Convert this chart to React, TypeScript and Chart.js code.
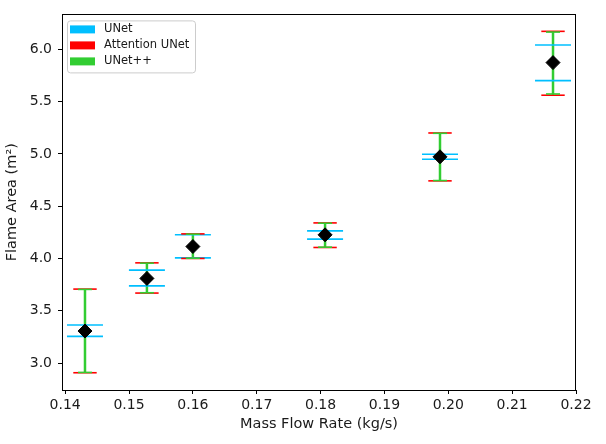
import { useEffect, useRef } from 'react';
import { Chart, registerables } from 'chart.js';

Chart.register(...registerables);

// mass flow rate of each case (kg/s)
const massFlow = [0.1431, 0.1528, 0.16, 0.1807, 0.1987, 0.2164];
// mean flame area over the three models (m²)
const meanArea = [3.306, 3.809, 4.114, 4.226, 4.972, 5.873];

const unetLow = [3.255, 3.738, 4.006, 4.185, 4.949, 5.701];
const unetHigh = [3.363, 3.888, 4.226, 4.264, 4.997, 6.041];
const attnLow = [2.907, 3.669, 4.0, 4.105, 4.742, 5.561];
const attnHigh = [3.707, 3.958, 4.235, 4.34, 5.2, 6.172];
const unetppLow = [2.91, 3.672, 4.002, 4.108, 4.745, 5.573];
const unetppHigh = [3.704, 3.955, 4.232, 4.337, 5.197, 6.165];

const seriesNames = ['UNet', 'Attention UNet', 'UNet++'];
const seriesColors = ['#00bfff', '#ff0000', '#32cd32'];

const xTicks = [0.14, 0.15, 0.16, 0.17, 0.18, 0.19, 0.2, 0.21, 0.22];
const yTicks = [3.0, 3.5, 4.0, 4.5, 5.0, 5.5, 6.0];

const bands = [
  { low: unetLow, high: unetHigh },
  { low: attnLow, high: attnHigh },
  { low: unetppLow, high: unetppHigh },
];
const capHalf = [18, 11.7, 7];
const barWidth = [1.5, 1.5, 2.5];

const TEXT = '#1a1a1a';
const FONT = 'DejaVu Sans';

const errorBars = {
  id: 'errorBars',
  beforeDatasetsDraw(chart: any) {
    const { ctx, scales } = chart;
    const x = scales.x;
    const y = scales.y;
    ctx.save();
    // vertical bars of every series first, caps afterwards (like matplotlib)
    bands.forEach((b, s) => {
      ctx.strokeStyle = seriesColors[s];
      ctx.lineWidth = barWidth[s];
      massFlow.forEach((v, i) => {
        const px = x.getPixelForValue(v);
        ctx.beginPath();
        ctx.moveTo(px, y.getPixelForValue(b.low[i]));
        ctx.lineTo(px, y.getPixelForValue(b.high[i]));
        ctx.stroke();
      });
    });
    bands.forEach((b, s) => {
      ctx.strokeStyle = seriesColors[s];
      ctx.lineWidth = 1.6;
      massFlow.forEach((v, i) => {
        const px = x.getPixelForValue(v);
        [b.low[i], b.high[i]].forEach((val) => {
          const py = y.getPixelForValue(val);
          ctx.beginPath();
          ctx.moveTo(px - capHalf[s], py);
          ctx.lineTo(px + capHalf[s], py);
          ctx.stroke();
        });
      });
    });
    ctx.restore();
  },
};

const frameAndLegend = {
  id: 'frameAndLegend',
  afterDraw(chart: any) {
    const { ctx, chartArea } = chart;
    const { left, top, right, bottom } = chartArea;
    ctx.save();
    ctx.strokeStyle = '#000';
    ctx.lineWidth = 1;
    ctx.strokeRect(Math.round(left) + 0.5, Math.round(top) + 0.5, Math.round(right - left) - 1, Math.round(bottom - top));

    // legend box, upper left
    const bx = left + 5;
    const by = top + 6;
    const bw = 128;
    const bh = 52;
    ctx.beginPath();
    ctx.roundRect(bx + 0.5, by + 0.5, bw, bh, 3);
    ctx.fillStyle = 'rgba(255,255,255,0.8)';
    ctx.fill();
    ctx.strokeStyle = '#cccccc';
    ctx.stroke();

    ctx.font = `11.5px "${FONT}"`;
    ctx.textBaseline = 'middle';
    ctx.textAlign = 'left';
    seriesNames.forEach((name, i) => {
      const ry = by + 5 + i * 16;
      ctx.fillStyle = seriesColors[i];
      ctx.fillRect(bx + 3, ry, 25, 8);
      ctx.fillStyle = TEXT;
      ctx.fillText(name, bx + 37, ry + 4);
    });
    ctx.restore();
  },
};

export default function App() {
  const canvasRef = useRef<HTMLCanvasElement>(null);

  useEffect(() => {
    if (!canvasRef.current) return;
    const chart = new Chart(canvasRef.current, {
      type: 'scatter',
      data: {
        datasets: [
          {
            label: 'mean',
            data: massFlow.map((x, i) => ({ x, y: meanArea[i] })),
            pointStyle: 'rectRot',
            pointRadius: 7,
            backgroundColor: '#000',
            borderColor: '#000',
            borderWidth: 1,
          },
        ],
      },
      options: {
        animation: false,
        responsive: false,
        maintainAspectRatio: false,
        layout: { padding: { top: 14, right: 30, left: 0, bottom: 0 } },
        plugins: {
          legend: { display: false },
          tooltip: { enabled: false },
        },
        scales: {
          x: {
            type: 'linear',
            min: 0.1395,
            max: 0.22,
            afterBuildTicks: (s: any) => {
              s.ticks = xTicks.map((value) => ({ value }));
            },
            afterFit: (s: any) => {
              s.height = 54;
            },
            ticks: {
              callback: (v: any) => Number(v).toFixed(2),
              font: { family: FONT, size: 14 },
              color: TEXT,
              padding: 3,
              autoSkip: false,
              maxRotation: 0,
              minRotation: 0,
            },
            grid: { drawOnChartArea: false, drawTicks: true, tickLength: 4, tickColor: '#000' },
            border: { display: false },
            title: {
              display: true,
              text: 'Mass Flow Rate (kg/s)',
              font: { family: FONT, size: 14.5 },
              color: TEXT,
              padding: { top: 0, bottom: 11 },
            },
          },
          y: {
            type: 'linear',
            min: 2.742,
            max: 6.334,
            afterBuildTicks: (s: any) => {
              s.ticks = yTicks.map((value) => ({ value }));
            },
            afterFit: (s: any) => {
              s.width = 62;
            },
            ticks: {
              callback: (v: any) => Number(v).toFixed(1),
              font: { family: FONT, size: 14 },
              color: TEXT,
              padding: 6,
            },
            grid: { drawOnChartArea: false, drawTicks: true, tickLength: 4, tickColor: '#000' },
            border: { display: false },
            title: {
              display: true,
              text: 'Flame Area (m²)',
              font: { family: FONT, size: 14.5 },
              color: TEXT,
              padding: { top: 4, bottom: 0 },
            },
          },
        },
      },
      plugins: [errorBars, frameAndLegend],
    });
    return () => chart.destroy();
  }, []);

  return (
    <div style={{ position: 'absolute', left: 0, top: 0, width: 606, height: 444, background: '#fff' }}>
      <canvas ref={canvasRef} width={606} height={444} />
    </div>
  );
}
